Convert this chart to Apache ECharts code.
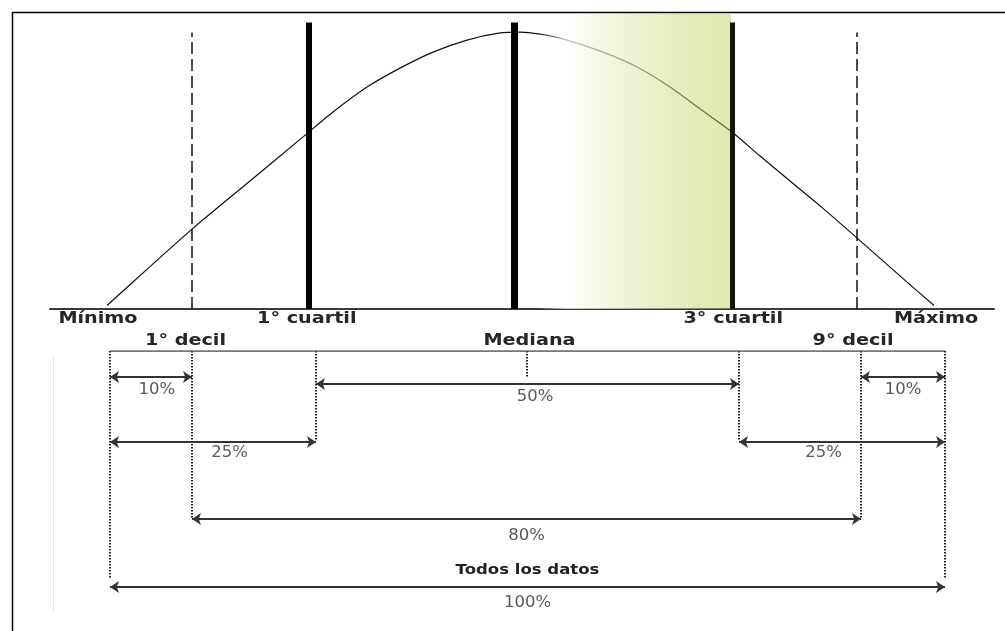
<!DOCTYPE html>
<html><head><meta charset="utf-8">
<script src="https://cdn.jsdelivr.net/npm/echarts@6/dist/echarts.min.js"></script>
<style>html,body{margin:0;padding:0;background:#fff}#c{width:1005px;height:631px}</style>
</head><body><div id="c"></div>
<script>
// ---------------- data ----------------
// Bell curve (x: position 0..100 from Mínimo to Máximo, y: relative height)
const curveX = [0, 5.2, 10.28, 17.29, 23.7, 27.33, 31.44, 35.43, 39.42, 43.53, 47.52, 49.94, 52.36, 55.14, 59.98, 64.09, 68.08, 72.07, 75.57, 78.96, 82.59, 86.22, 90.57, 96.74, 100];
const curveY = [1.2, 14.8, 27.9, 44.7, 60.1, 68.8, 77.5, 84.1, 89.7, 93.9, 96.4, 96.7, 96.0, 94.3, 89.7, 84.5, 77.5, 69.1, 61.8, 53.4, 44.7, 36.0, 25.1, 9.4, 1.2];

const markerNames = ['Mínimo', '1° decil', '1° cuartil', 'Mediana', '3° cuartil', '9° decil', 'Máximo'];
const curveMarkerPos = [0, 10.3, 24.4, 49.2, 75.6, 90.6, 100];      // on the curve panel
const bracketMarkerPos = [0, 9.82, 24.67, 49.94, 75.33, 89.94, 100]; // on the bracket panel
const markerHeight = [0, 96.5, 100, 100, 100, 96.5, 0];

// arrows: from marker index -> to marker index
const arrowFrom = [0, 5, 2, 0, 4, 1, 0];
const arrowTo = [1, 6, 4, 2, 6, 5, 6];
const arrowLabels = ['10%', '10%', '50%', '25%', '25%', '80%', '100%'];
const totalLabel = 'Todos los datos';

// shaded band on the curve panel
const shadeFrom = 52.0;
const shadeTo = 75.45;

// ---------------- layout (not data) ----------------
const LAYOUT = {
  arrowRow: [2.6, 2.6, 3.3, 9.1, 9.1, 16.8, 23.6],
  arrowLabelRow: [3.9, 3.9, 4.6, 10.2, 10.2, 18.5, 25.2],
  arrowLabelNudge: [0.7, 0, 0.9, 2.0, -2.2, 0, 0],
  guideDepth: [22.8, 16.7, 9.0, 2.7, 9.0, 16.7, 22.8],
  totalRow: 21.9,
  topNameIdx: [0, 2, 4, 6],
  bottomNameIdx: [1, 3, 5],
  nameNudgePx: [-9, -6.5, -2, 2.5, 1, -8, 2],
  bottomNameRow: -1.0
};
const markerStyle = [
  null,
  { type: [12, 5], width: 1.5, color: '#111', opacity: 1 },
  { type: 'solid', width: 6, color: '#000', opacity: 1 },
  { type: 'solid', width: 7, color: '#000', opacity: 1 },
  { type: 'solid', width: 5, color: '#161600', opacity: 1 },
  { type: [12, 5], width: 1.5, color: '#111', opacity: 1 },
  null
];

const FONT = "'DejaVu Sans', Verdana, sans-serif";
const nameStyle = { fontFamily: FONT, fontWeight: 'bold', fontSize: 16, fill: '#262626', scaleX: 1.2 };
const pctStyle = { fontFamily: FONT, fontWeight: 'normal', fontSize: 15, fill: '#5a5a5a', scaleX: 1.1 };
const totalStyle = { fontFamily: FONT, fontWeight: 'bold', fontSize: 14, fill: '#222', scaleX: 1.18 };

function textSeries(axisIdx, items, st) {
  return {
    type: 'custom', xAxisIndex: axisIdx, yAxisIndex: axisIdx, z: 10, silent: true,
    data: items.map(function (it) { return [it.x, it.y]; }),
    renderItem: function (params, api) {
      const it = items[params.dataIndex];
      const p = api.coord([api.value(0), api.value(1)]);
      return {
        type: 'text', x: p[0] + (it.dx || 0), y: p[1] + (it.dy || 0),
        scaleX: st.scaleX, scaleY: 1,
        style: {
          text: it.text, fontFamily: st.fontFamily, fontWeight: st.fontWeight,
          fontSize: st.fontSize, fill: st.fill, align: 'center', verticalAlign: 'middle'
        }
      };
    }
  };
}

const topNames = LAYOUT.topNameIdx.map(function (i) {
  return { text: markerNames[i], x: curveMarkerPos[i], y: 0, dx: LAYOUT.nameNudgePx[i], dy: 10 };
});
const bottomNames = LAYOUT.bottomNameIdx.map(function (i) {
  return { text: markerNames[i], x: bracketMarkerPos[i], y: LAYOUT.bottomNameRow, dx: LAYOUT.nameNudgePx[i], dy: 0 };
});
const pctItems = arrowLabels.map(function (t, k) {
  const a = bracketMarkerPos[arrowFrom[k]], b = bracketMarkerPos[arrowTo[k]];
  return { text: t, x: (a + b) / 2 + LAYOUT.arrowLabelNudge[k], y: LAYOUT.arrowLabelRow[k] };
});
const totalItems = [{ text: totalLabel, x: (bracketMarkerPos[0] + bracketMarkerPos[6]) / 2, y: LAYOUT.totalRow }];

const topMarkerLines = [];
for (let i = 1; i <= 5; i++) {
  topMarkerLines.push({ coords: [[curveMarkerPos[i], 0], [curveMarkerPos[i], markerHeight[i]]], lineStyle: markerStyle[i] });
}
const guideLines = bracketMarkerPos.map(function (x, i) {
  return { coords: [[x, 0], [x, LAYOUT.guideDepth[i]]] };
});
const arrowLines = arrowFrom.map(function (f, k) {
  return { coords: [[bracketMarkerPos[f], LAYOUT.arrowRow[k]], [bracketMarkerPos[arrowTo[k]], LAYOUT.arrowRow[k]]] };
});

const chart = echarts.init(document.getElementById('c'), null, { renderer: 'canvas' });
const hidden = { show: false };
chart.setOption({
  animation: false,
  backgroundColor: '#fff',
  grid: [
    { left: 50, right: 11, top: 14, bottom: 322 },
    { left: 110, right: 60, top: 351, bottom: 20 }
  ],
  xAxis: [
    { type: 'value', gridIndex: 0, min: -6.89, max: 107.25,
      axisLine: { show: true, onZero: false, lineStyle: { color: '#3a3a3a', width: 2 } },
      axisTick: hidden, axisLabel: hidden, splitLine: hidden },
    { type: 'value', gridIndex: 1, min: 0, max: 100,
      axisLine: hidden, axisTick: hidden, axisLabel: hidden, splitLine: hidden }
  ],
  yAxis: [
    { type: 'value', gridIndex: 0, min: 0, max: 103,
      axisLine: hidden, axisTick: hidden, axisLabel: hidden, splitLine: hidden },
    { type: 'value', gridIndex: 1, min: 0, max: 26, inverse: true,
      axisLine: hidden, axisTick: hidden, axisLabel: hidden, splitLine: hidden }
  ],
  graphic: [
    { type: 'polyline', silent: true, z: 100,
      shape: { points: [[12.5, 631], [12.5, 12.5], [1005, 12.5]] },
      style: { stroke: '#000', lineWidth: 1.5, fill: null } },
    { type: 'line', silent: true, z: 1,
      shape: { x1: 53.5, y1: 356, x2: 53.5, y2: 612 },
      style: { stroke: '#e3e9f3', lineWidth: 1 } }
  ],
  series: [
    { type: 'line', name: 'curva', xAxisIndex: 0, yAxisIndex: 0, z: 2, silent: true,
      data: curveX.map(function (x, i) { return [x, curveY[i]]; }),
      smooth: 0.25, symbol: 'none', lineStyle: { color: '#111', width: 1.2 } },
    { type: 'custom', name: 'sombreado', xAxisIndex: 0, yAxisIndex: 0, z: 3, silent: true,
      data: [[shadeFrom, 0]],
      renderItem: function (params, api) {
        const a = api.coord([shadeFrom, 0]);
        const b = api.coord([shadeTo, 103]);
        return { type: 'rect', shape: { x: a[0], y: b[1], width: b[0] - a[0], height: a[1] - b[1] },
          style: { fill: new echarts.graphic.LinearGradient(0, 0, 1, 0, [
            { offset: 0, color: 'rgba(255,255,255,0)' },
            { offset: 0.15, color: 'rgba(255,255,255,0.75)' },
            { offset: 1, color: 'rgba(185,208,80,0.45)' }]) } };
      } },
    { type: 'lines', name: 'marcadores', coordinateSystem: 'cartesian2d', xAxisIndex: 0, yAxisIndex: 0, z: 4, silent: true,
      symbol: 'none', lineStyle: { opacity: 1 }, data: topMarkerLines },
    { type: 'lines', name: 'guias', coordinateSystem: 'cartesian2d', xAxisIndex: 1, yAxisIndex: 1, z: 4, silent: true,
      symbol: 'none', lineStyle: { type: [1.5, 1.5], width: 2, color: '#222', opacity: 1 }, data: guideLines },
    { type: 'lines', name: 'barra', coordinateSystem: 'cartesian2d', xAxisIndex: 1, yAxisIndex: 1, z: 4, silent: true,
      symbol: 'none', lineStyle: { type: 'solid', width: 1.5, color: '#4a4a4a', opacity: 1 },
      data: [{ coords: [[bracketMarkerPos[0], 0], [bracketMarkerPos[6], 0]] }] },
    { type: 'lines', name: 'flechas', coordinateSystem: 'cartesian2d', xAxisIndex: 1, yAxisIndex: 1, z: 5, silent: true,
      symbol: ['arrow', 'arrow'], symbolSize: 9, lineStyle: { type: 'solid', width: 2, color: '#333', opacity: 1 },
      data: arrowLines },
    textSeries(0, topNames, nameStyle),
    textSeries(1, bottomNames, nameStyle),
    textSeries(1, pctItems, pctStyle),
    textSeries(1, totalItems, totalStyle)
  ]
});
</script>
</body></html>
